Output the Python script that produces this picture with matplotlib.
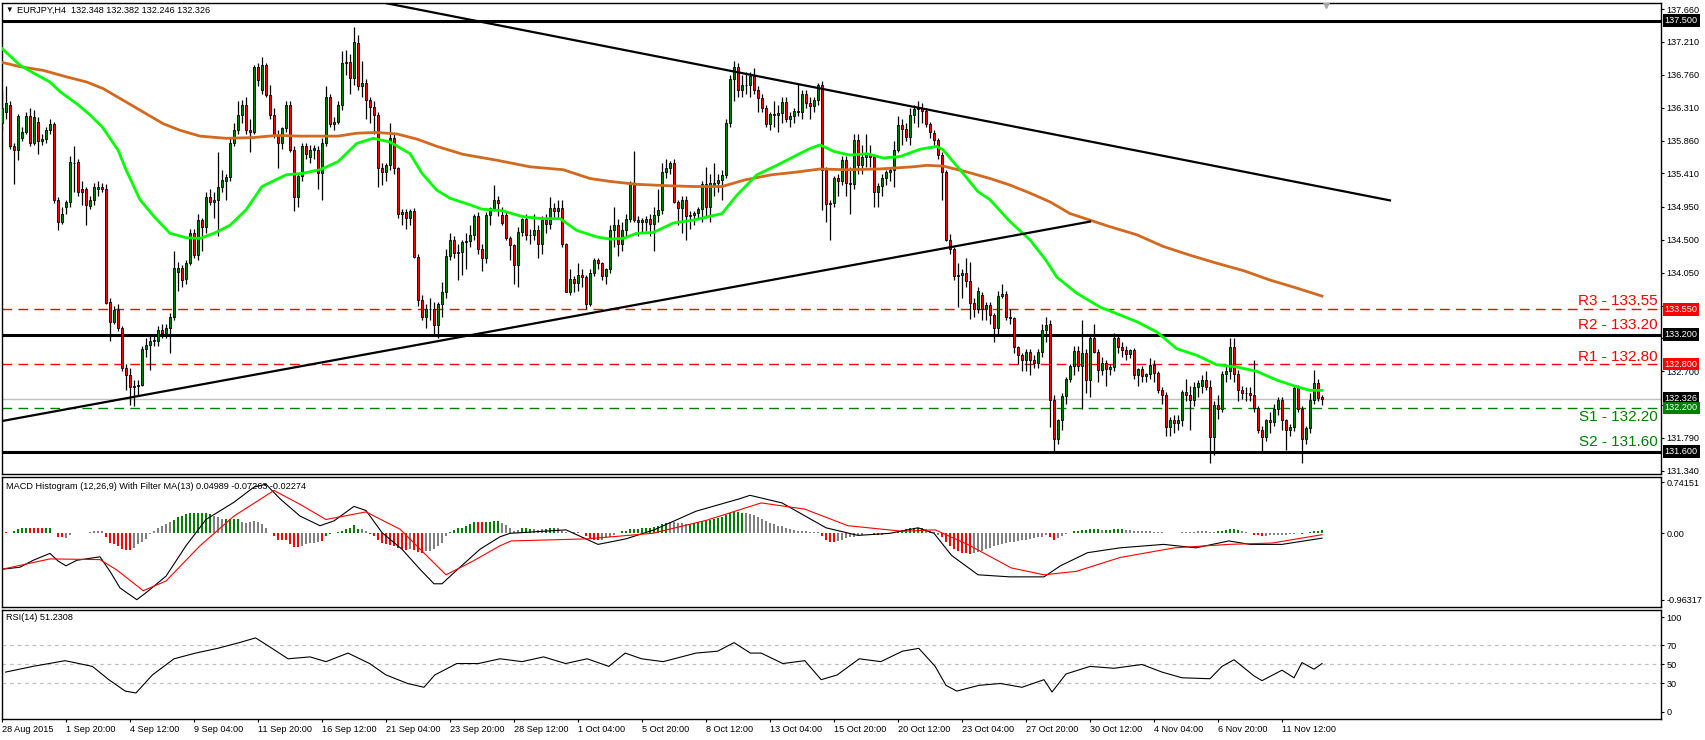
import matplotlib.pyplot as plt

plt.rcParams['font.family'] = ['Liberation Sans', 'DejaVu Sans']

# ---- EURJPY H4 candles (bar 0 = 28 Aug 2015 04:00) ----
opens = [
    136.10, 136.25, 136.35, 135.78, 135.73, 135.89, 135.98, 136.19, 135.82, 136.12,
    135.85, 135.88, 136.00, 136.09, 135.05, 134.75, 134.95, 135.02, 135.55, 135.57,
    135.20, 135.20, 134.97, 135.05, 135.20, 135.23, 135.20, 133.65, 133.38, 133.54,
    133.29, 132.74, 132.65, 132.49, 132.50, 132.52, 133.00, 133.06, 133.13, 133.11,
    133.27, 133.22, 133.29, 133.45, 134.06, 134.11, 133.97, 134.18, 134.59, 134.29,
    134.77, 134.68, 135.09, 135.02, 135.05, 135.23, 135.30, 135.36, 135.82, 136.00,
    136.21, 136.35, 136.00, 135.98, 136.87, 136.55, 136.89, 136.48, 136.21, 135.93,
    135.82, 136.03, 136.35, 135.73, 135.09, 135.38, 135.78, 135.64, 135.73, 135.73,
    135.41, 135.82, 136.46, 136.08, 136.12, 136.35, 136.92, 136.94, 136.71, 137.19,
    136.60, 136.65, 136.41, 136.32, 136.21, 135.48, 135.43, 135.52, 135.89, 135.48,
    134.86, 134.88, 134.80, 134.90, 134.27, 133.68, 133.45, 133.56, 133.55, 133.33,
    133.62, 133.78, 134.28, 134.50, 134.32, 134.33, 134.47, 134.48, 134.57, 134.83,
    134.37, 134.25, 134.84, 134.94, 135.05, 134.84, 134.84, 134.53, 134.43, 134.15,
    134.61, 134.79, 134.57, 134.56, 134.63, 134.45, 134.77, 134.72, 134.93, 134.90,
    134.94, 134.44, 133.79, 133.96, 133.91, 134.02, 133.99, 133.62, 134.05, 134.22,
    134.18, 134.00, 134.10, 134.64, 134.70, 134.45, 134.64, 134.79, 135.27, 134.77,
    134.75, 134.75, 134.79, 134.72, 134.84, 134.91, 135.43, 135.48, 135.55, 135.02,
    134.94, 135.05, 134.82, 134.84, 134.87, 134.92, 135.26, 134.95, 135.25, 135.28,
    135.32, 135.39, 136.10, 136.70, 136.87, 136.55, 136.62, 136.62, 136.74, 136.55,
    136.44, 136.30, 136.09, 136.22, 136.21, 136.23, 136.39, 136.16, 136.19, 136.26,
    136.25, 136.50, 136.37, 136.33, 136.41, 136.62, 135.46, 134.99, 135.01, 135.34,
    135.30, 135.59, 135.28, 135.26, 135.87, 135.52, 135.63, 135.68, 135.63, 135.16,
    135.24, 135.35, 135.43, 135.45, 135.73, 136.07, 136.02, 135.91, 136.21, 136.29,
    136.30, 136.26, 136.09, 135.96, 135.87, 135.66, 135.43, 134.50, 134.37, 134.00,
    134.02, 134.05, 133.93, 133.64, 133.56, 133.74, 133.55, 133.61, 133.47, 133.29,
    133.73, 133.76, 133.45, 133.43, 133.04, 132.92, 132.85, 132.97, 132.85, 132.81,
    132.97, 133.27, 133.35, 132.31, 131.77, 132.03, 132.36, 132.60, 132.77, 132.98,
    132.77, 132.95, 132.58, 133.15, 132.97, 132.72, 132.81, 132.73, 132.76, 133.15,
    133.04, 132.99, 132.94, 132.99, 132.65, 132.73, 132.63, 132.67, 132.79, 132.68,
    132.44, 132.38, 131.94, 132.04, 131.99, 132.03, 132.42, 132.38, 132.31, 132.49,
    132.50, 132.58, 132.49, 131.80, 132.24, 132.19, 132.67, 132.70, 133.04, 132.67,
    132.44, 132.40, 132.41, 132.38, 132.20, 131.90, 131.80, 132.03, 132.00, 132.19,
    132.31, 132.03, 131.90, 131.94, 132.47, 132.19, 131.77, 131.92, 132.31, 132.54,
    132.348,
]
highs = [
    136.55, 136.60, 136.40, 135.82, 136.22, 136.05, 136.25, 136.30, 136.28, 136.18,
    135.95, 136.05, 136.15, 136.12, 135.08, 134.95, 135.05, 135.65, 135.78, 135.60,
    135.30, 135.22, 135.10, 135.28, 135.30, 135.28, 135.27, 133.70, 133.60, 133.62,
    133.32, 132.80, 132.75, 132.58, 132.58, 133.05, 133.15, 133.20, 133.20, 133.32,
    133.35, 133.35, 133.50, 134.35, 134.20, 134.15, 134.22, 134.65, 134.65, 134.85,
    134.80, 135.15, 135.20, 135.15, 135.70, 135.45, 135.40, 135.90, 136.10, 136.40,
    136.42, 136.45, 136.15, 136.90, 136.92, 137.00, 136.92, 136.62, 136.30, 136.00,
    136.05, 136.40, 136.40, 135.78, 135.42, 135.82, 135.82, 135.80, 135.80, 135.78,
    135.90, 136.60, 136.50, 136.18, 136.40, 137.08, 137.10, 137.05, 137.42, 137.30,
    136.95, 136.70, 136.45, 136.40, 136.25, 135.55, 135.55, 136.10, 135.95, 135.50,
    134.92, 134.92, 134.92, 134.93, 134.30, 133.75, 133.62, 133.70, 133.65, 133.65,
    133.92, 134.38, 134.60, 134.55, 134.45, 134.50, 134.60, 134.70, 134.85, 134.88,
    134.45, 134.88, 134.95, 135.25, 135.10, 134.95, 134.90, 134.55, 134.45, 134.68,
    134.80, 134.85, 134.65, 134.85, 134.70, 134.82, 134.85, 135.08, 135.00, 135.05,
    135.05, 134.46, 134.10, 134.00, 134.18, 134.10, 134.02, 134.10, 134.25, 134.25,
    134.20, 134.12, 134.70, 134.95, 134.78, 134.75, 134.85, 135.30, 135.71, 134.82,
    134.80, 134.82, 134.85, 134.95, 135.20, 135.55, 135.60, 135.58, 135.60, 135.05,
    135.10, 135.10, 134.90, 134.90, 134.95, 135.30, 135.50, 135.40, 135.55, 135.40,
    135.45, 136.15, 136.75, 136.95, 136.92, 136.75, 136.80, 136.80, 136.85, 136.60,
    136.50, 136.35, 136.25, 136.40, 136.35, 136.45, 136.45, 136.25, 136.30, 136.65,
    136.55, 136.55, 136.45, 136.45, 136.65, 136.68, 135.50, 135.05, 135.38, 135.40,
    135.65, 135.65, 135.50, 135.95, 135.95, 135.80, 135.95, 135.80, 135.68, 135.28,
    135.40, 135.45, 135.50, 135.85, 136.20, 136.15, 136.10, 136.30, 136.35, 136.40,
    136.38, 136.30, 136.12, 136.00, 135.90, 135.70, 135.45, 134.58, 134.40, 134.18,
    134.10, 134.25, 134.20, 133.70, 133.85, 133.78, 133.65, 133.65, 133.50, 133.80,
    133.90, 133.80, 133.55, 133.45, 133.05, 132.95, 133.00, 133.00, 132.92, 133.00,
    133.35, 133.45, 133.40, 132.38, 132.05, 132.40, 132.62, 132.80, 133.05, 133.05,
    133.40, 133.00, 133.18, 133.35, 133.00, 132.90, 132.85, 132.80, 133.22, 133.20,
    133.10, 133.05, 133.00, 133.02, 132.75, 132.78, 132.68, 132.88, 132.85, 132.70,
    132.48, 132.42, 132.08, 132.10, 132.10, 132.45, 132.60, 132.50, 132.55, 132.58,
    132.65, 132.70, 132.58, 132.30, 132.38, 132.70, 132.78, 133.15, 133.15, 132.72,
    132.50, 132.48, 132.48, 132.85, 132.22, 131.95, 132.05, 132.15, 132.25, 132.35,
    132.35, 132.05, 131.98, 132.52, 132.52, 132.22, 131.95, 132.40, 132.72, 132.60,
    132.382,
]
lows = [
    136.00, 136.15, 135.75, 135.27, 135.59, 135.85, 135.95, 135.78, 135.80, 135.68,
    135.80, 135.82, 135.95, 135.00, 134.63, 134.72, 134.85, 134.95, 135.15, 135.10,
    134.98, 134.70, 134.92, 134.98, 135.10, 135.15, 133.62, 133.11, 133.35, 133.25,
    132.70, 132.45, 132.24, 132.22, 132.38, 132.50, 132.90, 132.72, 133.05, 133.05,
    133.15, 133.15, 132.95, 133.40, 133.80, 133.85, 133.90, 134.15, 134.25, 134.22,
    134.35, 134.60, 134.98, 134.80, 134.55, 135.15, 135.05, 135.30, 135.78, 135.95,
    136.10, 135.95, 135.70, 135.95, 136.60, 136.50, 136.45, 136.15, 135.90, 135.48,
    135.75, 135.98, 135.70, 134.90, 134.95, 135.30, 135.60, 135.55, 135.60, 135.20,
    135.05, 135.78, 136.05, 136.00, 136.08, 136.28, 136.75, 136.50, 136.62, 136.55,
    136.45, 136.15, 136.10, 135.95, 135.23, 135.25, 135.30, 135.45, 135.40, 134.80,
    134.70, 134.65, 134.70, 134.25, 133.60, 133.40, 133.30, 133.40, 133.20, 133.15,
    133.45, 133.70, 134.22, 134.25, 133.95, 134.02, 134.10, 134.40, 134.50, 134.30,
    134.08, 134.18, 134.70, 134.90, 134.82, 134.70, 134.50, 134.22, 133.90, 133.85,
    134.55, 134.50, 134.45, 134.50, 134.25, 134.30, 134.60, 134.65, 134.80, 134.80,
    134.40, 133.78, 133.75, 133.78, 133.80, 133.85, 133.55, 133.60, 134.00, 134.10,
    133.95, 133.90, 134.05, 134.40, 134.28, 134.35, 134.55, 134.75, 134.75, 134.55,
    134.60, 134.62, 134.55, 134.35, 134.75, 134.85, 135.35, 135.40, 135.00, 134.70,
    134.60, 134.50, 134.65, 134.70, 134.80, 134.75, 134.80, 134.75, 135.10, 135.15,
    135.05, 135.35, 136.05, 136.40, 136.45, 136.45, 136.50, 136.45, 136.50, 136.25,
    136.25, 136.05, 136.00, 136.05, 135.98, 136.10, 136.12, 136.05, 136.10, 136.20,
    136.15, 136.30, 136.15, 136.25, 136.35, 134.91, 134.75, 134.50, 134.95, 135.10,
    135.25, 135.10, 134.85, 135.20, 135.40, 135.40, 135.50, 135.50, 134.95, 134.95,
    135.10, 135.25, 135.30, 135.22, 135.70, 135.80, 135.85, 135.80, 136.10, 136.05,
    136.10, 136.05, 135.90, 135.80, 135.60, 135.05, 134.48, 134.30, 133.95, 133.58,
    133.70, 133.85, 133.42, 133.45, 133.50, 133.40, 133.40, 133.35, 133.10, 133.20,
    133.70, 133.40, 133.35, 132.95, 132.80, 132.70, 132.70, 132.65, 132.75, 132.75,
    132.90, 133.10, 131.94, 131.58, 131.70, 131.90, 132.25, 132.55, 132.65, 132.70,
    132.19, 132.40, 132.35, 132.95, 132.55, 132.65, 132.50, 132.65, 132.70, 132.95,
    132.90, 132.85, 132.88, 132.60, 132.50, 132.55, 132.55, 132.60, 132.55, 132.40,
    132.25, 131.82, 131.82, 131.85, 131.90, 131.95, 132.30, 131.90, 132.22, 132.35,
    132.40, 132.45, 131.44, 131.55, 132.05, 132.15, 132.55, 132.60, 132.55, 132.30,
    132.32, 132.30, 132.30, 132.15, 131.85, 131.60, 131.75, 131.85, 131.95, 132.10,
    131.90, 131.62, 131.82, 131.88, 132.15, 131.44, 131.70, 131.85, 132.25, 132.30,
    132.246,
]
closes = [
    136.30, 136.38, 135.78, 135.73, 136.19, 135.98, 136.19, 135.82, 136.18, 135.85,
    135.88, 136.00, 136.09, 135.05, 134.75, 134.86, 135.02, 135.57, 135.55, 135.16,
    135.16, 134.98, 135.05, 135.23, 135.23, 135.20, 133.63, 133.38, 133.54, 133.29,
    132.74, 132.65, 132.49, 132.50, 132.52, 133.01, 133.06, 133.12, 133.11, 133.27,
    133.22, 133.29, 133.45, 134.11, 134.11, 133.95, 134.18, 134.59, 134.29, 134.77,
    134.68, 135.09, 135.02, 135.05, 135.23, 135.32, 135.36, 135.82, 136.00, 136.21,
    136.35, 136.00, 135.98, 136.87, 136.69, 136.89, 136.48, 136.21, 135.93, 135.82,
    136.03, 136.35, 135.73, 135.09, 135.38, 135.78, 135.68, 135.73, 135.76, 135.41,
    135.82, 136.46, 136.09, 136.12, 136.35, 136.92, 136.94, 136.71, 137.21, 136.60,
    136.65, 136.41, 136.32, 136.21, 135.48, 135.43, 135.52, 135.89, 135.48, 134.86,
    134.88, 134.80, 134.90, 134.27, 133.68, 133.45, 133.56, 133.55, 133.33, 133.62,
    133.78, 134.28, 134.50, 134.32, 134.33, 134.47, 134.48, 134.57, 134.83, 134.37,
    134.25, 134.84, 134.94, 135.05, 135.00, 134.73, 134.53, 134.43, 134.15, 134.61,
    134.79, 134.57, 134.56, 134.63, 134.45, 134.77, 134.72, 134.93, 134.90, 134.94,
    134.44, 133.79, 133.96, 133.91, 134.02, 133.99, 133.62, 134.05, 134.22, 134.18,
    134.00, 134.10, 134.64, 134.70, 134.45, 134.64, 134.79, 135.27, 134.77, 134.75,
    134.77, 134.79, 134.72, 134.84, 134.91, 135.43, 135.48, 135.55, 135.02, 134.94,
    135.05, 134.82, 134.84, 134.87, 134.92, 135.26, 134.95, 135.28, 135.28, 135.32,
    135.39, 136.10, 136.70, 136.87, 136.55, 136.62, 136.62, 136.74, 136.55, 136.44,
    136.30, 136.09, 136.22, 136.21, 136.23, 136.39, 136.16, 136.19, 136.26, 136.25,
    136.50, 136.37, 136.33, 136.41, 136.62, 135.46, 134.99, 135.01, 135.34, 135.30,
    135.59, 135.28, 135.26, 135.87, 135.52, 135.63, 135.68, 135.63, 135.16, 135.24,
    135.35, 135.43, 135.45, 135.73, 136.07, 136.02, 135.91, 136.21, 136.29, 136.30,
    136.26, 136.09, 135.98, 135.87, 135.66, 135.43, 134.50, 134.37, 134.00, 134.02,
    134.05, 133.93, 133.64, 133.56, 133.80, 133.55, 133.61, 133.47, 133.29, 133.73,
    133.76, 133.45, 133.43, 133.04, 132.92, 132.85, 132.97, 132.85, 132.81, 132.97,
    133.27, 133.33, 132.31, 131.77, 132.03, 132.36, 132.60, 132.77, 132.98, 132.77,
    132.95, 132.58, 133.15, 132.97, 132.72, 132.81, 132.73, 132.76, 133.15, 133.04,
    132.99, 132.94, 132.99, 132.65, 132.73, 132.63, 132.67, 132.79, 132.68, 132.44,
    132.38, 131.94, 132.04, 131.99, 132.03, 132.42, 132.38, 132.31, 132.49, 132.54,
    132.58, 132.49, 131.80, 132.24, 132.19, 132.67, 132.70, 133.04, 132.67, 132.44,
    132.40, 132.41, 132.38, 132.20, 131.90, 131.80, 132.03, 132.00, 132.19, 132.31,
    132.03, 131.90, 131.94, 132.47, 132.19, 131.77, 131.92, 132.31, 132.54, 132.34,
    132.326,
]

# moving averages (bar index, price)
ma_fast_bars = [0, 4.5, 8, 12, 14.5, 19, 22, 25, 29, 31, 34.5, 38, 42, 46, 49.5, 53, 57, 61, 65, 71,
                75, 79.5, 84, 88.7, 92.8, 97, 102, 105, 108.7, 112, 117, 120, 125, 130, 135, 139.5,
                143.7, 148.7, 152, 155.3, 158.7, 162.8, 167.8, 172.8, 176.8, 180, 183.7, 188.7, 193.7,
                198.7, 202, 204.5, 208, 212, 216.2, 220.3, 224.5, 229.5, 233.7, 235.3, 239.5, 244, 247,
                252, 257, 261, 263.7, 268.7, 274.5, 278.7, 283.7, 288.7, 293.7, 298.7, 303.7, 308.7,
                313.7, 318.7, 323.7, 327, 330]
ma_fast = [137.12, 136.89, 136.78, 136.66, 136.53, 136.35, 136.21, 136.05, 135.73, 135.46,
           135.05, 134.82, 134.59, 134.53, 134.52, 134.59, 134.70, 134.91, 135.23, 135.39,
           135.41, 135.46, 135.57, 135.82, 135.89, 135.84, 135.68, 135.41, 135.18, 135.07,
           134.98, 134.92, 134.90, 134.82, 134.79, 134.79, 134.63, 134.54, 134.51, 134.52,
           134.59, 134.60, 134.73, 134.77, 134.82, 134.86, 135.11, 135.39, 135.52, 135.66,
           135.75, 135.80, 135.71, 135.66, 135.68, 135.62, 135.64, 135.74, 135.78, 135.73,
           135.46, 135.16, 135.05, 134.75, 134.50, 134.22, 133.99, 133.77, 133.58, 133.49,
           133.38, 133.24, 133.01, 132.92, 132.79, 132.76, 132.70, 132.58, 132.49, 132.44, 132.44]
ma_slow_bars = [0, 4.5, 10.3, 16.2, 21.2, 25.3, 30.3, 35.3, 40.3, 44.5, 49.5, 56, 62.8, 68.7, 74.5,
                84, 88.7, 93.7, 98.7, 103.7, 108.7, 115.3, 123.7, 132, 140.3, 147, 152, 158.7, 167,
                172.8, 180, 185.7, 192.3, 199, 204.5, 211, 219.3, 227.8, 231.2, 235.3, 241.2, 247,
                252, 257, 262, 267, 272, 277, 283.7, 290.3, 297, 303.7, 310.3, 317, 323.7, 330]
ma_slow = [136.93, 136.87, 136.82, 136.73, 136.66, 136.57, 136.41, 136.25, 136.09, 136.00,
           135.92, 135.89, 135.90, 135.93, 135.92, 135.92, 135.96, 135.97, 135.95, 135.88,
           135.78, 135.67, 135.59, 135.50, 135.46, 135.34, 135.30, 135.26, 135.24, 135.23,
           135.23, 135.32, 135.39, 135.43, 135.47, 135.46, 135.47, 135.50, 135.52, 135.51,
           135.43, 135.34, 135.25, 135.14, 135.02, 134.86, 134.77, 134.68, 134.57, 134.41,
           134.29, 134.18, 134.08, 133.95, 133.84, 133.73]

# trend lines (bar, price) endpoints
trend_down = ([96, 347], [137.74, 135.04])
trend_up = ([0, 272], [132.02, 134.75])

resistances = [133.55, 133.20, 132.80]
supports = [132.20, 131.60]
solid_levels = [137.50, 133.20, 131.60]
bid = 132.326

# MACD histogram, one value per bar; colour code g=green r=red k=grey
macd_hist = [
    0.02, 0.02, 0.01, 0.03, 0.06, 0.07, 0.08, 0.08, 0.08, 0.07,
    0.07, 0.07, 0.08, 0.00, -0.06, -0.06, -0.07, -0.03, 0.00, 0.00,
    0.00, 0.01, 0.02, 0.03, 0.04, 0.04, -0.06, -0.14, -0.16, -0.18,
    -0.23, -0.24, -0.24, -0.21, -0.16, -0.13, -0.08, -0.01, 0.03, 0.07,
    0.11, 0.13, 0.16, 0.20, 0.24, 0.25, 0.28, 0.29, 0.30, 0.29,
    0.30, 0.29, 0.28, 0.25, 0.23, 0.21, 0.21, 0.21, 0.21, 0.21,
    0.17, 0.15, 0.16, 0.18, 0.16, 0.13, 0.07, 0.01, -0.04, -0.09,
    -0.10, -0.09, -0.16, -0.20, -0.20, -0.18, -0.16, -0.14, -0.14, -0.13,
    -0.11, -0.04, -0.01, 0.00, 0.02, 0.03, 0.06, 0.08, 0.12, 0.06,
    0.06, 0.03, -0.01, -0.04, -0.09, -0.14, -0.15, -0.17, -0.18, -0.21,
    -0.23, -0.24, -0.23, -0.24, -0.27, -0.29, -0.26, -0.25, -0.23, -0.18,
    -0.14, -0.04, 0.02, 0.05, 0.07, 0.08, 0.11, 0.13, 0.16, 0.17,
    0.16, 0.16, 0.17, 0.18, 0.18, 0.15, 0.12, 0.08, 0.04, 0.05,
    0.07, 0.07, 0.06, 0.06, 0.05, 0.06, 0.06, 0.07, 0.07, 0.07,
    0.04, 0.02, 0.01, 0.02, 0.02, 0.01, -0.04, -0.07, -0.09, -0.10,
    -0.09, -0.07, -0.05, -0.02, 0.01, 0.03, 0.04, 0.06, 0.06, 0.06,
    0.07, 0.07, 0.08, 0.09, 0.10, 0.13, 0.15, 0.17, 0.16, 0.15,
    0.15, 0.14, 0.14, 0.15, 0.16, 0.18, 0.18, 0.20, 0.21, 0.22,
    0.23, 0.26, 0.29, 0.31, 0.31, 0.30, 0.29, 0.28, 0.26, 0.24,
    0.21, 0.18, 0.15, 0.13, 0.11, 0.10, 0.08, 0.06, 0.05, 0.04,
    0.03, 0.03, 0.02, 0.02, 0.02, -0.04, -0.09, -0.12, -0.12, -0.11,
    -0.09, -0.07, -0.06, -0.05, -0.03, -0.02, 0.00, 0.00, -0.02, -0.03,
    -0.02, -0.01, 0.00, 0.01, 0.03, 0.05, 0.06, 0.07, 0.08, 0.08,
    0.07, 0.06, 0.04, 0.02, -0.02, -0.06, -0.12, -0.18, -0.23, -0.26,
    -0.28, -0.29, -0.30, -0.29, -0.27, -0.25, -0.23, -0.21, -0.19, -0.17,
    -0.15, -0.14, -0.13, -0.12, -0.11, -0.10, -0.09, -0.08, -0.07, -0.06,
    -0.05, -0.03, -0.06, -0.09, -0.07, -0.04, -0.01, 0.01, 0.03, 0.04,
    0.05, 0.05, 0.06, 0.06, 0.06, 0.05, 0.05, 0.05, 0.06, 0.06,
    0.06, 0.05, 0.05, 0.04, 0.04, 0.03, 0.03, 0.03, 0.02, 0.02,
    0.02, 0.01, 0.01, 0.01, 0.01, 0.02, 0.02, 0.02, 0.02, 0.03,
    0.03, 0.03, 0.02, 0.02, 0.03, 0.04, 0.05, 0.06, 0.06, 0.05,
    0.04, 0.02, 0.00, -0.02, -0.03, -0.04, -0.04, -0.03, -0.03, -0.02,
    -0.02, -0.02, -0.01, -0.01, 0.00, -0.01, 0.01, 0.02, 0.03, 0.04,
    0.05,
]
macd_colors = ("rrrggggrrrrggkrrkkgrrkkkkk" "rrrrrrr" "kkkkkkkkkk" "gggggggggg" "kkk" "gggg"
               "kkkkkkkk" "rrrrrrr" "kkkkk" "r" "ggggggggg" "kk" "rrrrrrrrrr" "k" "rrr" "kkkkkk"
               "ggggggg" "rr" "gggg"
               "kkkkkgggkkkgggk" "kkkkkk" "rrrrkkkk" "gggggggggg" "gggkkkkkgggggggggg" "ggggkkkkk"
               "kkkkkkkkkkkkkk" "rrrrkkkkkkk" "kkrrkkkggggggggkkkkr" "rrrrrrrkkkkkkkk"
               "kkkkkkkkkkkr" "rkkkggggggggk" "gggggkkkkkkkkkkkkkkkkkkkk"
               "kkkgggggg" "kk" "rrrr" "kkkkkkkkk" "r" "ggggg")

macd_line_bars = [0, 4.5, 7.8, 12, 14, 16, 18.7, 24.5, 27, 29.5, 33.7, 36, 41, 46, 51, 58, 63, 66,
                  69.5, 74.5, 79.5, 83, 88, 91, 95, 100, 104.5, 108, 110, 114.5, 119.5, 124.5,
                  127, 141, 149, 156, 163, 173.5, 184.4, 187, 195, 206, 214, 222, 229, 233, 237.4,
                  244, 252, 260.5, 264.6, 271.4, 279.5, 290.4, 298.5, 306.7, 312, 320, 330]
macd_line = [-0.52, -0.49, -0.39, -0.29, -0.40, -0.47, -0.39, -0.34, -0.55, -0.79, -0.96, -0.86,
             -0.62, -0.18, 0.20, 0.45, 0.67, 0.71, 0.50, 0.25, 0.11, 0.18, 0.39, 0.33, 0.01,
             -0.23, -0.52, -0.73, -0.73, -0.49, -0.23, -0.05,
             0.00, 0.05, -0.16, -0.08, 0.05, 0.32, 0.50, 0.55, 0.44, 0.08, -0.03, 0.00, 0.08,
             0.00, -0.32, -0.60, -0.63, -0.63, -0.47, -0.28, -0.21, -0.16, -0.21, -0.11, -0.16,
             -0.16, -0.07]
signal_bars = [0, 12, 24.5, 28.7, 35.3, 41, 49.5, 58, 68, 74.5, 81, 91, 99.5, 111, 117.8, 124.5,
               127.3, 146.3, 162.6, 176.2, 189.8, 200.7, 211.5, 225.1, 233.3, 241.4, 252.3,
               260.5, 268.6, 279.5, 293.1, 306.7, 317.6, 330]
signal_line = [-0.52, -0.37, -0.38, -0.53, -0.83, -0.69, -0.18, 0.25, 0.62, 0.42, 0.20, 0.31,
               0.06, -0.60, -0.40, -0.18, -0.11, -0.08, 0.00, 0.19, 0.44, 0.35, 0.11, 0.03,
               0.05, -0.16, -0.50, -0.60, -0.55, -0.35, -0.21, -0.16, -0.14, -0.02]

rsi_bars = [0.9, 7.7, 15.8, 22.6, 26.7, 30.8, 33.5, 37.6, 43, 48.4, 53.9, 59.3, 63.4, 67.5, 71.5,
            77, 81, 86.5, 91.9, 96, 101.4, 105.5, 108.2, 113.7, 119.1, 124.5, 130, 135.4, 140.9,
            146.3, 151.7, 155.8, 159.9, 165.3, 173.5, 178.9, 183, 187.1, 189.8, 195.2, 200.7,
            204.8, 208.8, 214.3, 219.7, 225.1, 229.2, 233.3, 236, 238.7, 244.2, 249.6, 255,
            260.5, 262.5, 266, 272, 278, 285, 290, 295, 302, 305, 308, 313, 315, 320, 323, 325,
            328, 330]
rsi_vals = [42, 48, 54, 48, 34, 22, 20, 39, 56, 62, 67, 73, 78, 67, 56, 58, 53, 62, 51, 39, 30,
            26, 39, 51, 51, 56, 53, 58, 51, 56, 48, 62, 56, 53, 62, 64, 73, 62, 62, 51, 54, 34,
            39, 56, 53, 64, 67, 48, 28, 22, 28, 30, 26, 34, 21, 40, 48, 46, 50, 42, 36, 35, 48,
            55, 38, 33, 44, 36, 52, 45, 51]

time_labels = ['28 Aug 2015', '1 Sep 20:00', '4 Sep 12:00', '9 Sep 04:00', '11 Sep 20:00',
               '16 Sep 12:00', '21 Sep 04:00', '23 Sep 20:00', '28 Sep 12:00', '1 Oct 04:00',
               '5 Oct 20:00', '8 Oct 12:00', '13 Oct 04:00', '15 Oct 20:00', '20 Oct 12:00',
               '23 Oct 04:00', '27 Oct 20:00', '30 Oct 12:00', '4 Nov 04:00', '6 Nov 20:00',
               '11 Nov 12:00']
# price scale; the two empty labels sit under the 133.200 / 132.200 tags
price_tick_vals = [137.66, 137.21, 136.76, 136.31, 135.86, 135.41, 134.95, 134.50, 134.05,
                   133.60, 133.15, 132.70, 132.245, 131.79, 131.34]
price_tick_text = ['137.660', '137.210', '136.760', '136.310', '135.860', '135.410', '134.950',
                   '134.500', '134.050', '133.600', '', '132.700', '', '131.790', '131.340']

GREEN = '#008000'
RED = '#FF0000'
GREY = '#808080'
FS = 6.6

W, H = 1705, 740


def box(x0, y0, x1, y1):
    return [x0 / W, 1 - y1 / H, (x1 - x0) / W, (y1 - y0) / H]


fig = plt.figure(figsize=(W / 100, H / 100), dpi=100)
ax = fig.add_axes(box(1.5, 2.5, 1661, 474))
ax_macd = fig.add_axes(box(1.5, 477, 1661, 607))
ax_rsi = fig.add_axes(box(1.5, 609.5, 1661, 719))

n = len(closes)
bars = list(range(n))
xlim = (-0.125, 414.75)

# ---- main price panel ----
body_bottom = [min(o, c) for o, c in zip(opens, closes)]
body_height = [abs(c - o) for o, c in zip(opens, closes)]
body_color = [GREEN if c >= o else RED for o, c in zip(opens, closes)]
ax.vlines(bars, lows, highs, color='black', lw=0.9, zorder=3)
ax.bar(bars, body_height, bottom=body_bottom, width=0.72, color=body_color,
       edgecolor='black', linewidth=0.6, zorder=4)

ax.plot(ma_slow_bars, ma_slow, color='#D2691E', lw=2.0, zorder=5)
ax.plot(ma_fast_bars, ma_fast, color='#00FF00', lw=2.0, zorder=5)

for lvl in solid_levels:
    ax.axhline(lvl, color='black', lw=2.2, zorder=2)
for lvl in [resistances[0], resistances[2]]:
    ax.axhline(lvl, color=RED, lw=1.0, dashes=(7, 4.5), zorder=2)
ax.axhline(supports[0], color=GREEN, lw=1.0, dashes=(7, 4.5), zorder=2)
ax.axhline(bid, color='#C0C0C0', lw=1.0, zorder=1)

ax.plot(*trend_down, color='black', lw=1.6, zorder=6)
ax.plot(*trend_up, color='black', lw=1.6, zorder=6)

label_y = {'R3 - 133.55': 133.66, 'R2 - 133.20': 133.33, 'R1 - 132.80': 132.90,
           'S1 - 132.20': 132.08, 'S2 - 131.60': 131.73}
for txt, y in label_y.items():
    col = RED if txt.startswith('R') else GREEN
    ax.text(0.9982, y, txt, transform=ax.get_yaxis_transform(), ha='right', va='center',
            fontsize=11, color=col, zorder=7)

ax.text(0.0025, 0.984, '\u25bc', transform=ax.transAxes, fontsize=5.5, va='center', ha='left')
ax.text(0.0093, 0.984, 'EURJPY,H4  132.348 132.382 132.246 132.326', transform=ax.transAxes,
        fontsize=FS, va='center', ha='left')
ax.plot([331], [137.715], marker='v', color='#A8A8A8', markersize=5, zorder=6)

ax.set_xlim(*xlim)
ax.set_ylim(131.295, 137.749)
ax.set_yticks(price_tick_vals)
ax.set_yticklabels(price_tick_text)

tags = [(137.5, 'black'), (133.55, RED), (133.2, 'black'), (132.8, RED),
        (bid, 'black'), (132.2, GREEN), (131.6, 'black')]
for val, fc in tags:
    ax.text(1.0022, val, f'{val:.3f}', transform=ax.get_yaxis_transform(), fontsize=FS,
            color='white', va='center', ha='left', clip_on=False, zorder=10,
            bbox=dict(boxstyle='square,pad=0.2', fc=fc, ec='none'))

# ---- MACD panel ----
hist_colors = [{'g': GREEN, 'r': RED, 'k': GREY}[c] for c in macd_colors]
ax_macd.bar(bars[:len(macd_hist)], macd_hist, width=0.72, color=hist_colors[:len(macd_hist)],
            linewidth=0)
ax_macd.plot(macd_line_bars, macd_line, color='black', lw=0.8)
ax_macd.plot(signal_bars, signal_line, color=RED, lw=0.8)
ax_macd.set_xlim(*xlim)
ax_macd.set_ylim(-1.066, 0.815)
ax_macd.set_yticks([0.74151, 0.0, -0.96317])
ax_macd.set_yticklabels(['0.74151', '0.00', '-0.96317'])
ax_macd.text(0.0025, 0.93, 'MACD Histogram (12,26,9) With Filter MA(13) 0.04989 -0.07263 -0.02274',
             transform=ax_macd.transAxes, fontsize=FS, va='center', ha='left')

# ---- RSI panel ----
for lvl in [70, 50, 30]:
    ax_rsi.axhline(lvl, color='#C0C0C0', lw=0.9, dashes=(3, 3))
ax_rsi.plot(rsi_bars, rsi_vals, color='black', lw=0.8)
ax_rsi.set_xlim(*xlim)
ax_rsi.set_ylim(-7.4, 107.9)
ax_rsi.set_yticks([100, 70, 50, 30, 0])
ax_rsi.set_yticklabels(['100', '70', '50', '30', '0'])
ax_rsi.text(0.0025, 0.93, 'RSI(14) 51.2308', transform=ax_rsi.transAxes, fontsize=FS,
            va='center', ha='left')
ax_rsi.set_xticks([16 * k for k in range(len(time_labels))])
ax_rsi.set_xticklabels(time_labels, ha='left')

for a in (ax, ax_macd, ax_rsi):
    a.yaxis.tick_right()
    a.tick_params(axis='y', length=2.2, width=0.8, pad=2, labelsize=FS)
    for s in a.spines.values():
        s.set_linewidth(1.0)
    if a is not ax_rsi:
        a.set_xticks([])
ax_rsi.tick_params(axis='x', length=2.2, width=0.8, pad=2, labelsize=FS)

fig.savefig('out.png', dpi=100)
